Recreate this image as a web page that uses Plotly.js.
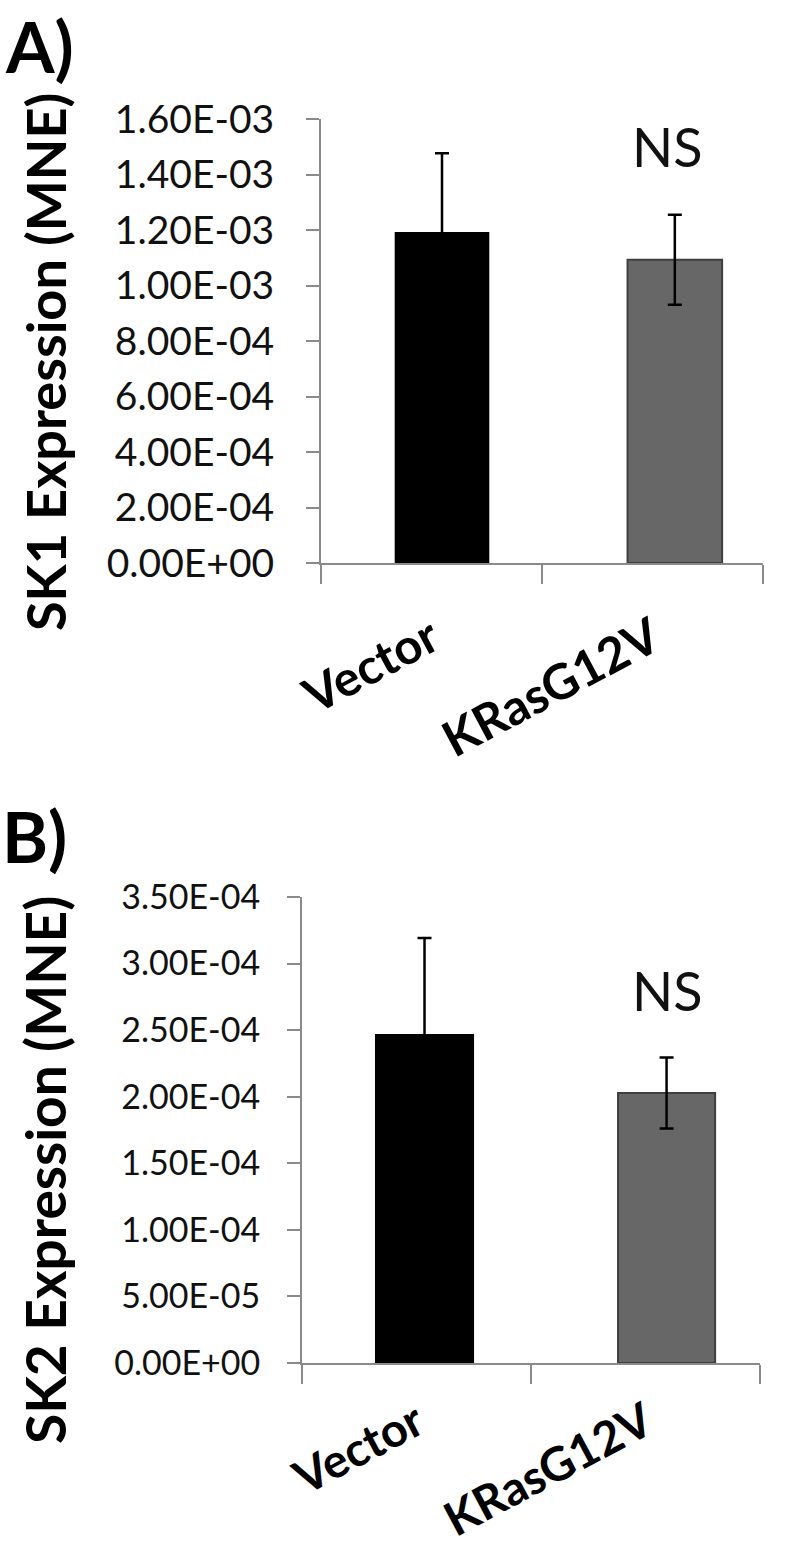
<!DOCTYPE html>
<html>
<head>
<meta charset="utf-8">
<script src="https://cdn.plot.ly/plotly-3.0.1.min.js"></script>
<style>html,body{margin:0;padding:0;background:#fff;}#chart{width:800px;height:1555px;}</style>
</head>
<body>
<div id="chart"></div>
<script>
// ---- data ----
const categories = ["Vector", "KRasG12V"];
const sk1Values = [1.189e-3, 1.093e-3];
const sk1Errors = [0.288e-3, 0.162e-3];
const sk2Values = [2.464e-4, 2.028e-4];
const sk2Errors = [0.728e-4, 0.267e-4];
const sk1TickVals = [0, 2e-4, 4e-4, 6e-4, 8e-4, 1.0e-3, 1.2e-3, 1.4e-3, 1.6e-3];
const sk1TickText = ["0.00E+00","2.00E-04","4.00E-04","6.00E-04","8.00E-04","1.00E-03","1.20E-03","1.40E-03","1.60E-03"];
const sk2TickVals = [0, 0.5e-4, 1.0e-4, 1.5e-4, 2.0e-4, 2.5e-4, 3.0e-4, 3.5e-4];
const sk2TickText = ["0.00E+00","5.00E-05","1.00E-04","1.50E-04","2.00E-04","2.50E-04","3.00E-04","3.50E-04"];
const sigLabel = "NS";

const FONT = "Lato, 'Open Sans', sans-serif";
const W = 800, H = 1555;
const px = v => v / W;
const py = v => 1 - v / H;

const barColors = ["#000000", "#676767"];
const barLines = ["#000000", "#3f3f3f"];

const traceA = {
  type: "bar", x: categories, y: sk1Values, xaxis: "x", yaxis: "y",
  width: [0.419, 0.428], offset: [-0.162, -0.113],
  marker: {color: barColors, line: {color: barLines, width: 2}},
  error_y: {type: "data", array: sk1Errors, visible: true, color: "#000000", thickness: 2.5, width: 7},
  showlegend: false, hoverinfo: "skip"
};
const traceB = {
  type: "bar", x: categories, y: sk2Values, xaxis: "x2", yaxis: "y2",
  width: [0.424, 0.424], offset: [-0.177, -0.120],
  marker: {color: barColors, line: {color: barLines, width: 2}},
  error_y: {type: "data", array: sk2Errors, visible: true, color: "#000000", thickness: 2.5, width: 7},
  showlegend: false, hoverinfo: "skip"
};

const axisLine = {showline: true, linecolor: "#8a8a8a", linewidth: 2, showgrid: false, zeroline: false, ticks: "outside", tickcolor: "#8a8a8a", tickwidth: 2};

const layout = {
  width: W, height: H,
  margin: {l: 0, r: 0, t: 0, b: 0},
  paper_bgcolor: "#ffffff", plot_bgcolor: "#ffffff",
  bargap: 0.5,
  xaxis: Object.assign({}, axisLine, {
    domain: [px(321), px(763)], anchor: "y", type: "category", range: [-0.5, 1.5],
    tickson: "boundaries", ticklen: 19, tickangle: -28, ticklabelstandoff: 26,
    tickfont: {family: FONT, size: 49, color: "#000", weight: "bold"}
  }),
  yaxis: Object.assign({}, axisLine, {
    domain: [py(563), py(119)], anchor: "x", range: [0, 1.6e-3],
    tickvals: sk1TickVals, ticktext: sk1TickText, ticklen: 13, ticklabelstandoff: 24,
    tickfont: {family: FONT, size: 39, color: "#111"}
  }),
  xaxis2: Object.assign({}, axisLine, {
    domain: [px(302), px(760)], anchor: "y2", type: "category", range: [-0.5, 1.5],
    tickson: "boundaries", ticklen: 19, tickangle: -28, ticklabelstandoff: 12,
    tickfont: {family: FONT, size: 47, color: "#000", weight: "bold"}
  }),
  yaxis2: Object.assign({}, axisLine, {
    domain: [py(1363), py(897)], anchor: "x2", range: [0, 3.5e-4],
    tickvals: sk2TickVals, ticktext: sk2TickText, ticklen: 13, ticklabelstandoff: 20,
    tickfont: {family: FONT, size: 34, color: "#111"}
  }),
  annotations: [
    {text: "<b>A)</b>", xref: "paper", yref: "paper", x: px(3), y: py(46), xanchor: "left", yanchor: "middle", showarrow: false, font: {family: FONT, size: 70, color: "#000"}},
    {text: "<b>B)</b>", xref: "paper", yref: "paper", x: px(0), y: py(836), xanchor: "left", yanchor: "middle", showarrow: false, font: {family: FONT, size: 70, color: "#000"}},
    {text: "<b>SK1 Expression (MNE)</b>", xref: "paper", yref: "paper", x: px(45), y: py(362), xanchor: "center", yanchor: "middle", textangle: -90, showarrow: false, font: {family: FONT, size: 54, color: "#000"}},
    {text: "<b>SK2 Expression (MNE)</b>", xref: "paper", yref: "paper", x: px(45), y: py(1170), xanchor: "center", yanchor: "middle", textangle: -90, showarrow: false, font: {family: FONT, size: 55, color: "#000"}},
    {text: sigLabel, xref: "paper", yref: "paper", x: px(667), y: py(147), xanchor: "center", yanchor: "middle", showarrow: false, font: {family: FONT, size: 54, color: "#111"}},
    {text: sigLabel, xref: "paper", yref: "paper", x: px(667), y: py(990), xanchor: "center", yanchor: "middle", showarrow: false, font: {family: FONT, size: 54, color: "#111"}}
  ]
};

Plotly.newPlot("chart", [traceA, traceB], layout, {staticPlot: true, displayModeBar: false});
</script>
</body>
</html>
